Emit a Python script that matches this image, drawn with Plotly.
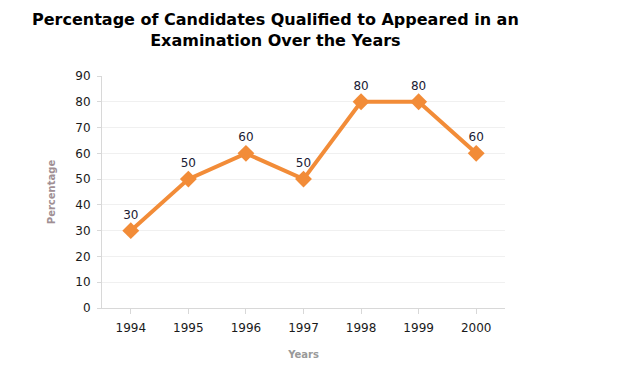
import plotly.graph_objects as go

years = ["1994", "1995", "1996", "1997", "1998", "1999", "2000"]
percentage = [30, 50, 60, 50, 80, 80, 60]
y_ticks = [0, 10, 20, 30, 40, 50, 60, 70, 80, 90]

fig = go.Figure()
fig.add_trace(go.Scatter(
    x=years, y=percentage,
    mode="lines+markers+text",
    line=dict(color="#F28C38", width=4),
    marker=dict(symbol="diamond", size=13, color="#F28C38"),
    text=[str(v) for v in percentage],
    textposition="top center",
    textfont=dict(family="DejaVu Sans", size=12, color="#1a1a33"),
    cliponaxis=False,
    hoverinfo="x+y",
))

fig.update_layout(
    width=625, height=365,
    margin=dict(l=94, r=128, t=68, b=65),
    paper_bgcolor="white", plot_bgcolor="white",
    showlegend=False,
    xaxis=dict(
        type="category", range=[-0.5, 6.5], automargin=False,
        showgrid=False, showline=True, linecolor="#d8d8d8", linewidth=1,
        ticks="outside", ticklen=5, tickcolor="#d8d8d8",
        ticklabelstandoff=4,
        tickfont=dict(family="DejaVu Sans", size=12, color="#1a1a1a"),
        title=dict(text="<b>Years</b>", font=dict(family="DejaVu Sans", size=10, color="#999999"), standoff=16),
        zeroline=False,
    ),
    yaxis=dict(
        range=[0, 90], tickvals=y_ticks, automargin=False,
        showgrid=True, gridcolor="#f0f0f0",
        showline=True, linecolor="#d8d8d8", linewidth=1,
        ticks="outside", ticklen=4, tickcolor="#d8d8d8",
        ticklabelstandoff=4,
        tickfont=dict(family="DejaVu Sans", size=12, color="#1a1a1a"),
        title=dict(text="<b>Percentage</b>", font=dict(family="DejaVu Sans", size=10, color="#a08f94"), standoff=17),
        zeroline=False,
    ),
    annotations=[dict(
        text="<b>Percentage of Candidates Qualified to Appeared in an<br>Examination Over the Years</b>",
        xref="paper", yref="paper", x=0.43, y=1.0, yshift=68,
        xanchor="center", yanchor="top", showarrow=False, align="center",
        font=dict(family="DejaVu Sans", size=16, color="#000000"),
    )],
)

fig.write_html("out.html")
